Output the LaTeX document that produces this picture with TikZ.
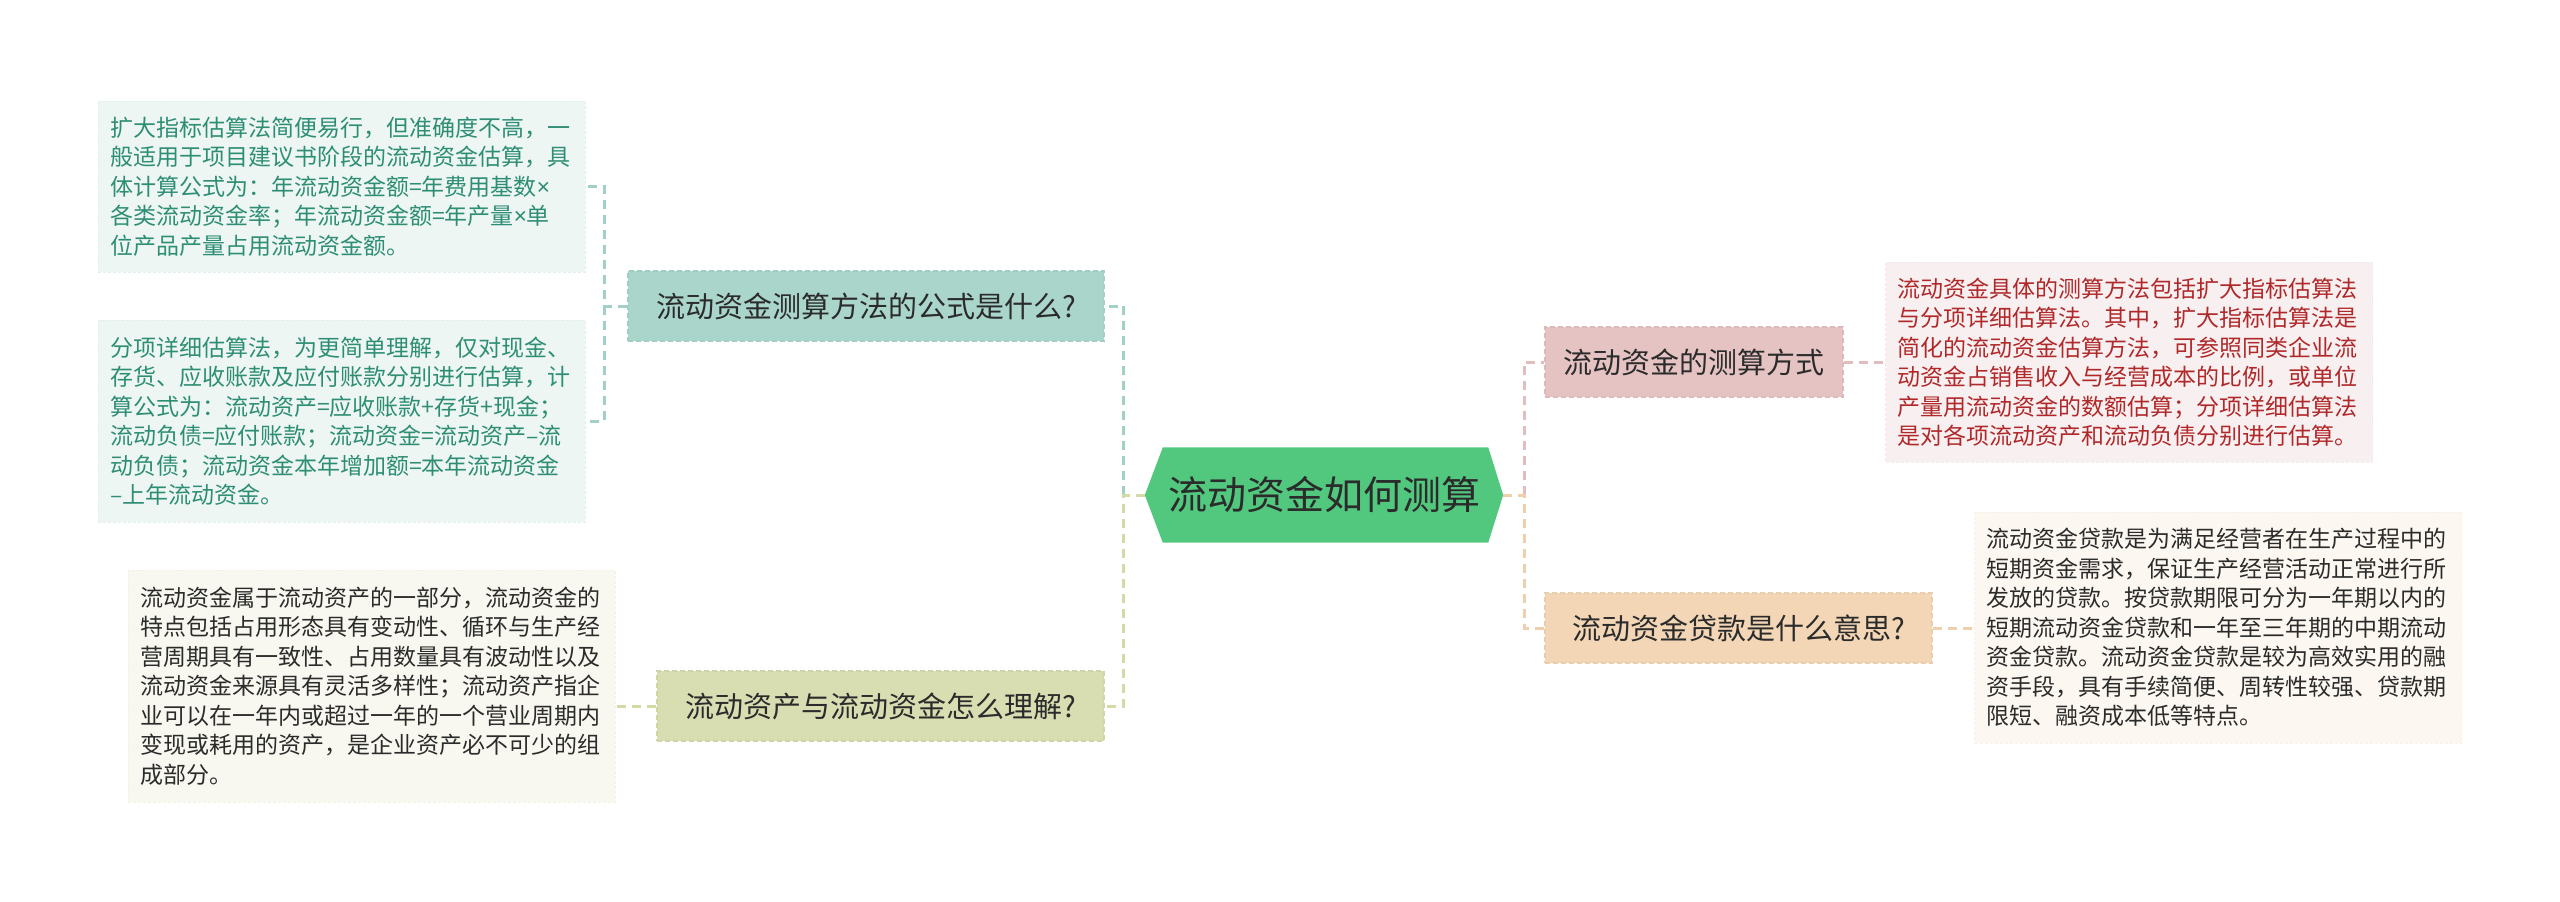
\documentclass[tikz,border=0pt]{standalone}
\usepackage{fontspec}
\setmainfont{Noto Sans CJK SC}
\newfontfamily\latinfont{Noto Sans}
\newcommand\mtimes{{\latinfont ×}}
\usetikzlibrary{backgrounds}

\definecolor{rootgreen}{HTML}{52C87F}
\definecolor{tealfill}{HTML}{A9D5CB}
\definecolor{tealedge}{HTML}{9FCEC4}
\definecolor{tealline}{HTML}{A2D0C6}
\definecolor{tealpale}{HTML}{EEF6F4}
\definecolor{tealtext}{HTML}{2E8E74}
\definecolor{olivefill}{HTML}{D9DDB2}
\definecolor{oliveedge}{HTML}{D0D4A6}
\definecolor{oliveline}{HTML}{D5D9A8}
\definecolor{olivepale}{HTML}{F8F8F0}
\definecolor{pinkfill}{HTML}{E6C3C3}
\definecolor{pinkedge}{HTML}{DEB9B9}
\definecolor{pinkline}{HTML}{E3BDBD}
\definecolor{pinkpale}{HTML}{F8F0F0}
\definecolor{pinktext}{HTML}{B0282A}
\definecolor{orangefill}{HTML}{F2D6B6}
\definecolor{orangeedge}{HTML}{EBCDAB}
\definecolor{orangeline}{HTML}{F0D0AC}
\definecolor{orangepale}{HTML}{FCF7F0}
\definecolor{darktext}{HTML}{2B2B2B}

\tikzset{
  link/.style={line width=3pt, dash pattern=on 9pt off 6pt},
  branch/.style={rectangle, minimum height=70pt, inner sep=0pt, text=darktext,
    font=\fontsize{29}{34}\selectfont, draw, dash pattern=on 5pt off 3pt, line width=1.2pt},
  leaf/.style={rectangle, inner xsep=12pt, inner ysep=0pt, align=left, text width=463pt,
    font=\fontsize{23}{29.5}\selectfont, draw, dash pattern=on 3pt off 2pt, line width=0.6pt},
}

\begin{document}
\begin{tikzpicture}[x=1pt,y=-1pt]
  \useasboundingbox (0,0) rectangle (2560,902);
  \begin{pgfonlayer}{background}
    \fill[white] (0,0) rectangle (2560,902);
  \end{pgfonlayer}

  % centre
  \node[minimum width=358pt, minimum height=95pt, inner sep=0pt, text=darktext,
    font=\fontsize{39}{44}\selectfont] (root) at (1324,495) {流动资金如何测算};
  \begin{pgfonlayer}{background}
    \fill[rootgreen] (root.west) -- ([xshift=18pt]root.north west) -- ([xshift=-15pt]root.north east)
      -- (root.east) -- ([xshift=-15pt]root.south east) -- ([xshift=18pt]root.south west) -- cycle;
  \end{pgfonlayer}

  % left branches
  \node[branch, fill=tealfill, draw=tealedge, minimum width=476pt] (formula) at (866,306) {流动资金测算方法的公式是什么?};
  \node[branch, fill=olivefill, draw=oliveedge, minimum width=447pt] (assets) at (880.5,706) {流动资产与流动资金怎么理解?};

  % right branches
  \node[branch, fill=pinkfill, draw=pinkedge, minimum width=298pt] (methods) at (1694,362) {流动资金的测算方式};
  \node[branch, fill=orangefill, draw=orangeedge, minimum width=387pt] (loan) at (1738.5,628) {流动资金贷款是什么意思?};

  % leaves
  \node[leaf, fill=tealpale, draw=tealpale!85!tealedge, text=tealtext, minimum height=171pt] (expand) at (341.5,186.5)
    {扩大指标估算法简便易行，但准确度不高，一\\
     般适用于项目建议书阶段的流动资金估算，具\\
     体计算公式为：年流动资金额=年费用基数\mtimes\\
     各类流动资金率；年流动资金额=年产量\mtimes 单\\
     位产品产量占用流动资金额。};
  \node[leaf, fill=tealpale, draw=tealpale!85!tealedge, text=tealtext, minimum height=202pt] (detail) at (341.5,421)
    {分项详细估算法，为更简单理解，仅对现金、\\
     存货、应收账款及应付账款分别进行估算，计\\
     算公式为：流动资产=应收账款+存货+现金；\\
     流动负债=应付账款；流动资金=流动资产–流\\
     动负债；流动资金本年增加额=本年流动资金\\
     –上年流动资金。};
  \node[leaf, fill=olivepale, draw=olivepale!85!oliveedge, text=darktext, minimum height=232pt] (assetsnote) at (371.5,686)
    {流动资金属于流动资产的一部分，流动资金的\\
     特点包括占用形态具有变动性、循环与生产经\\
     营周期具有一致性、占用数量具有波动性以及\\
     流动资金来源具有灵活多样性；流动资产指企\\
     业可以在一年内或超过一年的一个营业周期内\\
     变现或耗用的资产，是企业资产必不可少的组\\
     成部分。};
  \node[leaf, fill=pinkpale, draw=pinkpale!85!pinkedge, text=pinktext, minimum height=200pt] (methodsnote) at (2129,362)
    {流动资金具体的测算方法包括扩大指标估算法\\
     与分项详细估算法。其中，扩大指标估算法是\\
     简化的流动资金估算方法，可参照同类企业流\\
     动资金占销售收入与经营成本的比例，或单位\\
     产量用流动资金的数额估算；分项详细估算法\\
     是对各项流动资产和流动负债分别进行估算。};
  \node[leaf, fill=orangepale, draw=orangepale!85!orangeedge, text=darktext, minimum height=231pt] (loannote) at (2218,627.5)
    {流动资金贷款是为满足经营者在生产过程中的\\
     短期资金需求，保证生产经营活动正常进行所\\
     发放的贷款。按贷款期限可分为一年期以内的\\
     短期流动资金贷款和一年至三年期的中期流动\\
     资金贷款。流动资金贷款是较为高效实用的融\\
     资手段，具有手续简便、周转性较强、贷款期\\
     限短、融资成本低等特点。};

  % connectors
  \draw[link, tealline] (root.west) ++(-21,0) |- (formula.east);
  \draw[link, oliveline] (root.west) -- ++(-21,0) |- (assets.east);
  \draw[link, pinkline] (root.east) ++(21,0) |- (methods.west);
  \draw[link, orangeline] (root.east) -- ++(21,0) |- (loan.west);

  \draw[link, tealline] (formula.west) -- ++(-23,0) |- (expand.east);
  \draw[link, tealline] (formula.west) ++(-23,0) |- (detail.east);
  \draw[link, oliveline] (assets.west) -- (assets.west -| assetsnote.east);
  \draw[link, pinkline] (methods.east) -- (methodsnote.west);
  \draw[link, orangeline] (loan.east) -- (loan.east -| loannote.west);
\end{tikzpicture}
\end{document}
